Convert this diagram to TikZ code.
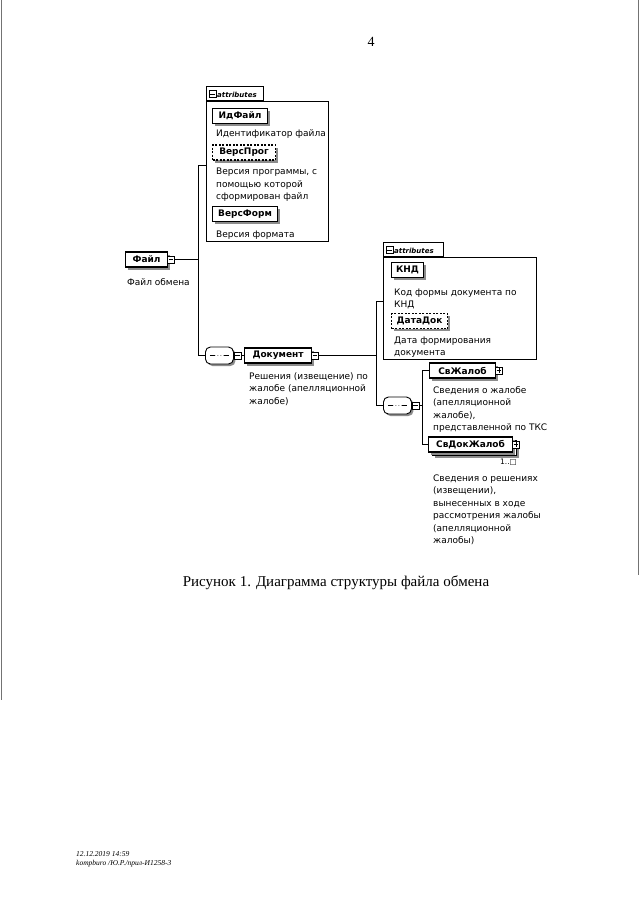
\documentclass[tikz,border=0pt]{standalone}
\usepackage{fontspec}
\setmainfont{Liberation Serif}
\newfontfamily\xsdfont{DejaVu Sans}
\usetikzlibrary{shadows}

\begin{document}
\begin{tikzpicture}[x=1pt, y=-1pt,
		elem_style/.style={draw=black, line width=1.1pt, fill=white, anchor=west,
			minimum height=15pt, inner xsep=3pt, inner ysep=0pt,
			font=\xsdfont\fontsize{9}{10}\selectfont\bfseries,
			drop shadow={shadow xshift=2.5pt, shadow yshift=-2.5pt, fill=black!45, opacity=1}},
		opt_style/.style={elem_style, dash pattern=on 2pt off 1.5pt},
		desc_style/.style={anchor=north west, inner sep=0pt, align=left,
			font=\xsdfont\fontsize{9}{12.4}\selectfont},
		sign_style/.style={draw=black, line width=0.6pt, fill=white, minimum size=7pt, inner sep=0pt, anchor=west},
		minus_style/.style={sign_style, path picture={
			\draw[line width=0.6pt] ([xshift=1.2pt]path picture bounding box.west) -- ([xshift=-1.2pt]path picture bounding box.east);}},
		plus_style/.style={sign_style, path picture={
			\draw[line width=0.6pt] ([xshift=1.2pt]path picture bounding box.west) -- ([xshift=-1.2pt]path picture bounding box.east);
			\draw[line width=0.6pt] ([yshift=-1.2pt]path picture bounding box.north) -- ([yshift=1.2pt]path picture bounding box.south);}},
		seq_style/.style={rectangle, rounded corners=5pt, draw=black, line width=0.9pt, fill=white,
			minimum width=28pt, minimum height=17pt, inner sep=0pt, anchor=west,
			drop shadow={shadow xshift=2pt, shadow yshift=-2pt, fill=black!45, opacity=1},
			path picture={
				\draw[line width=0.9pt] ([xshift=4.5pt]path picture bounding box.west) -- ([xshift=-4.5pt]path picture bounding box.east);
				\foreach \dx in {-3,0,3} \fill ([xshift=\dx pt]path picture bounding box.center) circle (1.3pt);}},
		group_style/.style={draw=black, line width=0.8pt, fill=white, anchor=north west, inner sep=0pt},
		tab_style/.style={group_style, anchor=south west, minimum height=14pt},
		tab_text/.style={anchor=west, inner sep=0pt, font=\xsdfont\fontsize{7}{8}\selectfont\bfseries\itshape},
		link_style/.style={draw=black, line width=1pt}]

		\useasboundingbox (0,0) rectangle (640,905);
		\fill[white] (0,0) rectangle (640,905);
		\draw[black!55, line width=0.7pt] (1,0) -- (1,700);
		\draw[black!55, line width=0.7pt] (638.5,0) -- (638.5,575);

		\node[font=\fontsize{14}{16}\selectfont] (page_no) at (371,42) {4};

		% attributes of Файл
		\node[tab_style, minimum width=57pt] (tab_one) at (206,101) {};
		\node[group_style, minimum width=122pt, minimum height=140pt] (attr_one) at (206,101) {};
		\node[minus_style] (tab_one_sign) at (208.5,94) {};
		\node[tab_text] (tab_one_text) at (217,94.5) {attributes};
		\node[elem_style, minimum width=55pt] (id_file) at (212,116) {ИдФайл};
		\node[desc_style] (id_file_desc) at (216,129.6) {Идентификатор файла};
		\node[opt_style, minimum width=63pt] (vers_prog) at (212,152.5) {ВерсПрог};
		\node[desc_style] (vers_prog_desc) at (216,168) {Версия программы, с\\помощью которой\\сформирован файл};
		\node[elem_style, minimum width=65pt] (vers_form) at (212,214) {ВерсФорм};
		\node[desc_style] (vers_form_desc) at (216,230.6) {Версия формата};

		% root element
		\node[elem_style, minimum width=42pt] (file) at (125,259.5) {Файл};
		\node[minus_style] (file_sign) at ([xshift=-1pt]file.east) {};
		\node[desc_style] (file_desc) at (127,278.3) {Файл обмена};

		\node[seq_style] (seq_one) at (205,355.5) {};
		\node[minus_style] (seq_one_sign) at (seq_one.east) {};
		\node[elem_style, minimum width=67pt] (doc) at (244,355.5) {Документ};
		\node[minus_style] (doc_sign) at ([xshift=-1pt]doc.east) {};
		\node[desc_style] (doc_desc) at (249,372.3) {Решения (извещение) по\\жалобе (апелляционной\\жалобе)};

		% attributes of Документ
		\node[tab_style, minimum width=60pt] (tab_two) at (383,257) {};
		\node[group_style, minimum width=153pt, minimum height=102pt] (attr_two) at (383,257) {};
		\node[minus_style] (tab_two_sign) at (385.5,250) {};
		\node[tab_text] (tab_two_text) at (394,250.5) {attributes};
		\node[elem_style, minimum width=32pt] (knd) at (391,270) {КНД};
		\node[desc_style] (knd_desc) at (394,288.3) {Код формы документа по\\КНД};
		\node[opt_style, minimum width=56pt] (data_dok) at (391,321) {ДатаДок};
		\node[desc_style] (data_dok_desc) at (394,336.3) {Дата формирования\\документа};

		\node[seq_style] (seq_two) at (383,405.5) {};
		\node[minus_style] (seq_two_sign) at (seq_two.east) {};
		\node[elem_style, minimum width=66pt] (sv_zhal) at (429,370.5) {СвЖалоб};
		\node[plus_style] (sv_zhal_sign) at ([xshift=-1pt]sv_zhal.east) {};
		\node[desc_style] (sv_zhal_desc) at (433,386.3) {Сведения о жалобе\\(апелляционной\\жалобе),\\представленной по ТКС};
		\node[elem_style, minimum width=84pt] (sv_dok_back) at (432,448) {};
		\node[elem_style, minimum width=84pt] (sv_dok) at (428,444.5) {СвДокЖалоб};
		\node[plus_style] (sv_dok_sign) at ([xshift=-1pt]sv_dok.east) {};
		\node[anchor=east, inner sep=0pt, font=\xsdfont\fontsize{7.5}{8}\selectfont] (sv_dok_occurs) at (517,462) {1..□};
		\node[desc_style] (sv_dok_desc) at (433,474.6) {Сведения о решениях\\(извещении),\\вынесенных в ходе\\рассмотрения жалобы\\(апелляционной\\жалобы)};

		% connectors
		\coordinate (trunk_one_top) at (198,165);
		\coordinate (trunk_two_top) at (376,301);
		\coordinate (trunk_three_top) at (422,370.5);

		\draw[link_style] (file_sign.east) -- (file_sign.east -| trunk_one_top);
		\draw[link_style] (attr_one.west |- trunk_one_top) -- (trunk_one_top) -- (trunk_one_top |- seq_one.west) -- (seq_one.west);
		\draw[link_style] (seq_one_sign.east) -- (doc.west);
		\draw[link_style] (doc_sign.east) -- (doc_sign.east -| trunk_two_top);
		\draw[link_style] (attr_two.west |- trunk_two_top) -- (trunk_two_top) -- (trunk_two_top |- seq_two.west) -- (seq_two.west);
		\draw[link_style] (seq_two_sign.east) -- (seq_two_sign.east -| trunk_three_top);
		\draw[link_style] (sv_zhal.west) -- (trunk_three_top) -- (trunk_three_top |- sv_dok.west) -- (sv_dok.west);

		\node[font=\fontsize{15}{17}\selectfont] (caption) at (336,583) {Рисунок 1. Диаграмма структуры файла обмена};
		\node[anchor=west, inner sep=0pt, align=left, font=\fontsize{7.5}{8.8}\selectfont\itshape] (footer) at (76,859.5) {12.12.2019 14:59\\kompburo /Ю.Р./прил-И1258-3};
\end{tikzpicture}
\end{document}
